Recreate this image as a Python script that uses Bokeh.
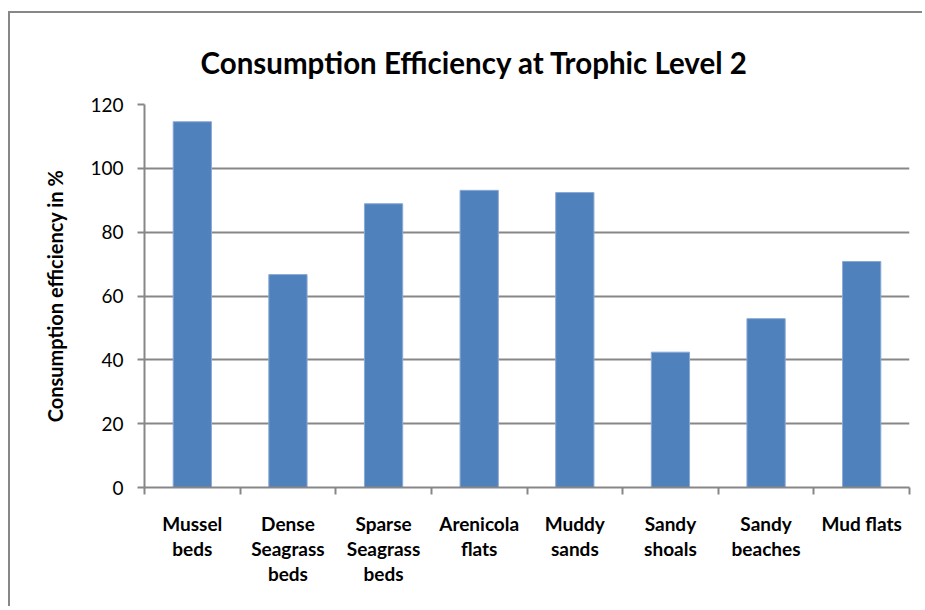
from bokeh.plotting import figure
from bokeh.models import Range1d, LinearAxis, FixedTicker
from bokeh.embed import file_html
from bokeh.resources import INLINE

title_text = "Consumption Efficiency at Trophic Level 2"
categories = ["Mussel beds", "Dense Seagrass beds", "Sparse Seagrass beds",
              "Arenicola flats", "Muddy sands", "Sandy shoals",
              "Sandy beaches", "Mud flats"]
label_lines = ["Mussel\nbeds", "Dense\nSeagrass\nbeds", "Sparse\nSeagrass\nbeds",
               "Arenicola\nflats", "Muddy\nsands", "Sandy\nshoals",
               "Sandy\nbeaches", "Mud flats"]
values = [114.6, 66.7, 88.9, 93.1, 92.4, 42.4, 52.9, 70.8]
y_ticks = [0, 20, 40, 60, 80, 100, 120]

FONT = "Lato"
GRAY = "#878787"

n = len(categories)
centers = [i + 0.5 for i in range(n)]
bounds = list(range(n + 1))

p = figure(width=914, height=595, x_range=Range1d(0, n),
           y_range=Range1d(0, 120), output_backend="svg", toolbar_location=None,
           min_border_left=134, min_border_right=15,
           min_border_top=91, min_border_bottom=121,
           title=title_text)
p.margin = (11, 0, 0, 8)
p.styles = {"border-top": "2px solid " + GRAY, "border-left": "2px solid " + GRAY}

p.vbar(x=centers, top=values, width=0.4, fill_color="#4F81BD",
       line_color="#8AA9D4", line_width=1)

# title
p.title.text_font = FONT
p.title.text_font_size = "29.5px"
p.title.text_font_style = "bold"
p.title.text_color = "black"
p.title.align = "left"
p.title.offset = 56
p.title.standoff = 50

# y axis
ya = p.yaxis[0]
ya.ticker = FixedTicker(ticks=y_ticks)
ya.axis_label = "Consumption efficiency in %"
ya.axis_label_text_font = FONT
ya.axis_label_text_font_style = "bold"
ya.axis_label_text_font_size = "20px"
ya.axis_label_text_color = "black"
ya.axis_label_standoff = 20
ya.major_label_text_font = FONT
ya.major_label_text_font_size = "19px"
ya.major_label_text_color = "black"
ya.major_label_standoff = 14
ya.major_tick_out = 7
ya.major_tick_in = 0
ya.minor_tick_line_color = None
ya.axis_line_color = GRAY
ya.axis_line_width = 2
ya.major_tick_line_color = GRAY
ya.major_tick_line_width = 2

# tick-mark axis at category boundaries
ta = p.xaxis[0]
ta.ticker = FixedTicker(ticks=bounds)
ta.major_label_text_font_size = "1px"
ta.major_label_text_color = None
ta.major_label_standoff = 0
ta.major_tick_out = 7
ta.major_tick_in = 0
ta.minor_tick_line_color = None
ta.axis_line_color = GRAY
ta.axis_line_width = 2
ta.major_tick_line_color = GRAY
ta.major_tick_line_width = 2

# category label axis
ca = LinearAxis(ticker=FixedTicker(ticks=centers))
ca.axis_line_color = None
ca.major_tick_line_color = None
ca.minor_tick_line_color = None
ca.major_label_overrides = dict(zip(centers, label_lines))
ca.major_label_text_font = FONT
ca.major_label_text_font_style = "bold"
ca.major_label_text_font_size = "19px"
ca.major_label_text_color = "black"
ca.major_label_text_line_height = 1.1
ca.major_label_standoff = 11
p.add_layout(ca, "below")

p.xgrid.grid_line_color = None
p.ygrid.ticker = FixedTicker(ticks=y_ticks)
p.ygrid.grid_line_color = GRAY
p.ygrid.grid_line_width = 2
p.outline_line_color = None
p.background_fill_color = "white"
p.border_fill_color = "white"

open("out.html", "w").write(file_html(p, INLINE))
